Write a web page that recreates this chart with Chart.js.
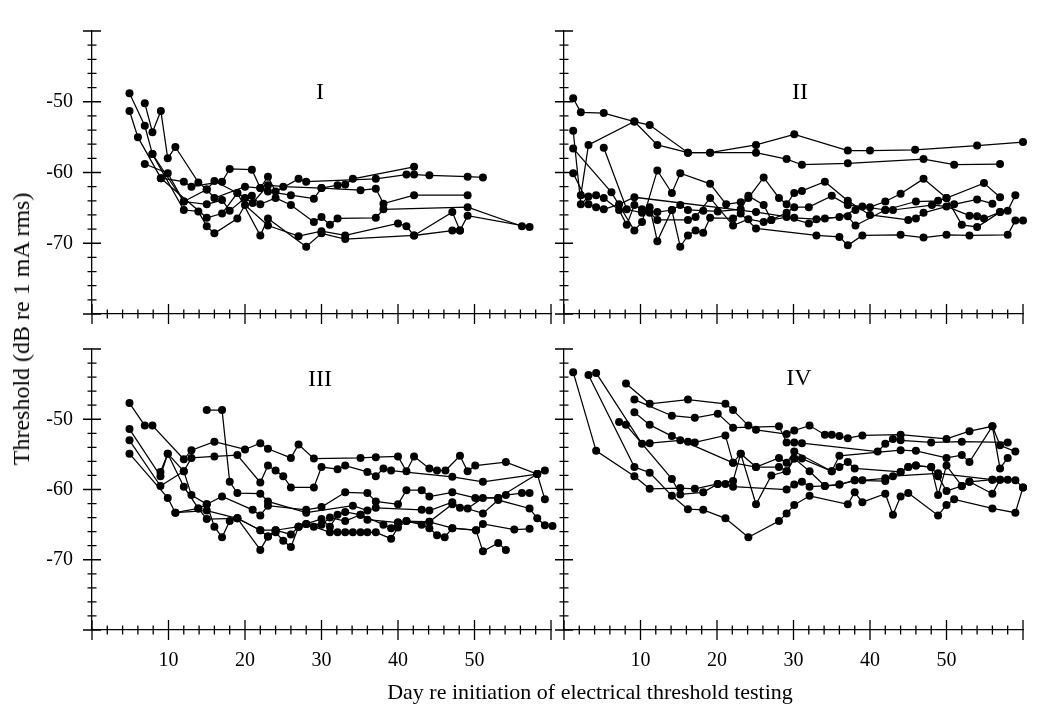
<!DOCTYPE html>
<html>
<head>
<meta charset="utf-8">
<script src="https://cdn.jsdelivr.net/npm/chart.js@4"></script>
<style>
  body { margin: 0; background: #fff; width: 1050px; height: 711px; position: relative; overflow: hidden; font-family: "Liberation Serif", "DejaVu Serif", serif; color: #000; }
  canvas { position: absolute; }
  .txt { position: absolute; white-space: nowrap; line-height: 1; transform: translate(-50%, -50%); }
</style>
</head>
<body>
<canvas id="p1" width="570" height="345" style="left:0;top:0"></canvas>
<canvas id="p2" width="505" height="345" style="left:545px;top:0"></canvas>
<canvas id="p3" width="570" height="393" style="left:0;top:318px"></canvas>
<canvas id="p4" width="505" height="393" style="left:545px;top:318px"></canvas>

<div class="txt" style="left:320px;top:91px;font-size:24px">I</div>
<div class="txt" style="left:800px;top:91px;font-size:24px">II</div>
<div class="txt" style="left:320px;top:378px;font-size:24px">III</div>
<div class="txt" style="left:799px;top:377px;font-size:24px">IV</div>
<div class="txt" style="left:590px;top:692px;font-size:22px">Day re initiation of electrical threshold testing</div>
<div class="txt" style="left:21px;top:329px;font-size:24px;transform:translate(-50%,-50%) rotate(-90deg)">Threshold (dB re 1 mA rms)</div>

<script>
// Tick positions (days and dB), one tick every 2 units
const xMin = 0, xMax = 60, xStep = 2;
const yMin = -80, yMax = -40, yStep = 2;
const xLabels = [10, 20, 30, 40, 50];
const yLabels = [-50, -60, -70];

// Panel I  [day, dB]
const panelI_a = [[4.9,-48.8],[6.9,-53.4],[7.9,-57.4],[12,-64.1],[15,-62.4],[16,-61.2],[19,-62.9],[21,-64.3],[23,-61.8],[25,-62.0],[30,-62.2],[32.1,-61.8],[33.1,-61.7],[34.1,-60.9],[42.1,-59.2]];
const panelI_b = [[4.9,-51.3],[6,-55.0],[9,-60.8],[12,-61.3],[13,-62.0],[17,-61.3],[18,-59.5],[20.9,-59.6],[22,-62.2],[23,-60.6],[24,-62.7],[27,-60.9],[28,-61.3],[37.1,-60.9],[41.1,-60.3],[42.1,-60.3],[44.1,-60.4],[49.1,-60.6],[51.1,-60.7]];
const panelI_c = [[6.9,-50.2],[7.9,-54.3],[9,-51.3],[9.9,-58.0],[10.9,-56.4],[13.9,-61.4],[15,-62.4],[16,-63.6],[20,-62.0],[22,-62.2],[23,-62.7],[26,-63.2],[29,-63.7],[30,-62.2],[35.1,-62.5],[37.1,-62.3],[38.1,-64.4],[42.1,-63.2],[49.1,-63.2]];
const panelI_d = [[6.9,-58.8],[9.9,-60.1],[12,-64.1],[15,-64.5],[17,-63.9],[18,-65.4],[20,-63.6],[20.9,-63.3],[22,-64.5],[24,-63.6],[26,-64.6],[29,-67.0],[30,-66.3],[31.1,-67.4],[32.1,-66.5],[37.1,-66.4],[38.1,-65.2],[49.1,-64.9],[56.2,-67.6]];
const panelI_e = [[7.9,-57.4],[12,-65.3],[13.9,-65.5],[15,-67.6],[16,-68.6],[19,-66.5],[20,-64.6],[23,-67.5],[27,-69.0],[30,-68.3],[33.1,-68.9],[40,-67.2],[41.1,-67.6],[42.1,-68.9],[47.1,-68.2],[48.1,-68.2],[49.1,-66.1],[57.2,-67.7]];
const panelI_f = [[9,-60.8],[15,-66.4],[17,-65.8],[19,-62.9],[22,-68.9],[23,-66.5],[28,-70.5],[30,-68.6],[33.1,-69.4],[42.1,-68.9],[47.1,-65.6],[48.1,-68.2]];

// Panel II
const panelII_a = [[1.2,-49.5],[2.2,-51.5],[5.2,-51.6],[9.2,-52.8],[11.2,-53.3],[16.2,-57.2],[19.1,-57.2],[25.1,-57.2],[29.1,-58.1],[31.1,-58.9],[37.1,-58.7],[47,-58.1],[51,-58.9],[57,-58.8]];
const panelII_b = [[2.2,-63.2],[3.2,-56.1],[9.2,-52.8],[12.2,-56.1],[16.2,-57.2],[19.1,-57.2],[25.1,-56.1],[30.1,-54.6],[37.1,-56.9],[40,-56.9],[45.9,-56.8],[54,-56.2],[60,-55.7]];
const panelII_c = [[1.2,-54.1],[2.2,-64.5],[3.2,-63.4],[4.2,-63.2],[5.2,-63.6],[7.2,-65.3],[8.2,-67.4],[9.2,-64.6],[10.2,-65.2],[12.2,-65.6],[14.1,-65.3],[15.2,-64.6],[16.2,-65.3],[18.2,-65.4],[20.1,-65.5],[23.1,-65.2],[24.1,-63.3],[26.1,-64.6],[27.1,-66.7],[29.1,-65.7],[30.1,-64.9],[32,-64.9],[35,-63.3],[37.1,-64.6],[40,-64.9],[42,-64.1],[44,-63.0],[47,-60.9],[50,-63.6],[54.9,-61.5],[57,-63.5]];
const panelII_d = [[1.2,-56.6],[6.2,-62.8],[9.2,-68.2],[10.2,-67.0],[12.2,-59.7],[14.1,-62.9],[15.2,-60.1],[19.1,-61.6],[21.2,-64.5],[23.1,-64.2],[24.1,-63.6],[26.1,-60.7],[28.1,-63.6],[29.1,-64.5],[30.1,-62.9],[31.1,-62.6],[34.1,-61.3],[37.1,-64.0],[40,-66.0],[45,-66.7],[46,-66.5],[47,-65.7],[51,-64.5],[54,-63.8],[56,-64.4]];
const panelII_e = [[1.2,-60.1],[3.2,-64.5],[4.2,-64.9],[5.2,-65.2],[7.2,-64.5],[9.2,-63.5],[25.1,-65.6],[30.1,-66.4],[33,-66.6],[36,-66.3],[38.1,-65.3],[39,-64.8],[42,-65.3],[43,-65.3],[48.1,-64.6],[50,-64.8],[53,-66.1],[54,-66.2],[54.9,-66.5],[57,-65.6],[58,-65.4],[59,-63.2]];
const panelII_f = [[5.2,-56.5],[8.2,-65.2],[10.2,-65.7],[11.2,-64.9],[12.2,-69.7],[14.1,-65.3],[15.2,-70.5],[16.2,-68.9],[17.2,-68.2],[18.2,-68.5],[19.1,-66.4],[22.1,-66.5],[23.1,-65.8],[25.1,-67.9],[33,-68.9],[36,-69.1],[37.1,-70.3],[39,-68.9],[44,-68.8],[47,-69.2],[50,-68.8],[53,-68.9],[58,-68.8],[59,-66.8],[60,-66.8]];
const panelII_g = [[11.2,-65.7],[12.2,-66.7],[16.2,-66.7],[17.2,-66.3],[19.1,-63.6],[22.1,-67.5],[24.1,-66.6],[26.1,-67.0],[27.1,-66.7],[29.1,-66.3],[32,-67.2],[34.1,-66.5],[37.1,-66.2],[38.1,-67.5],[42,-65.3],[46,-64.1],[48.9,-64.0],[50,-63.6],[52,-67.4],[54,-67.7],[57,-65.6]];

// Panel III
const panelIII_a = [[4.9,-47.7],[6.9,-50.9],[7.9,-50.9],[12,-55.7],[13,-54.4],[16,-53.2],[20,-54.3],[22,-53.4],[23,-54.2],[26,-55.5],[27,-53.6],[29,-55.6],[35.1,-55.5],[37.1,-55.4],[40,-55.3],[41.1,-57.4],[42.1,-55.3],[44.1,-57.0],[45.1,-57.3],[46.2,-57.3],[48.1,-55.2],[49.1,-57.4],[50.1,-56.6],[54.1,-56.1],[58.2,-57.8],[59.2,-57.3]];
const panelIII_b = [[4.9,-51.4],[8.95,-58.1],[9.9,-54.9],[12,-59.6],[13.9,-62.7],[15,-62.1],[17,-61.0],[21,-62.9],[22,-63.7],[23,-62.3],[28,-62.9],[30,-62.5],[33.1,-60.4],[36,-60.5],[37.1,-61.7],[40,-62.1],[41.1,-60.1],[43.1,-60.1],[44.1,-61.0],[47.1,-60.4],[50.1,-61.2],[53.1,-61.2],[54.1,-60.8],[56.2,-60.5],[57.2,-60.5]];
const panelIII_c = [[4.9,-53.0],[8.95,-59.5],[12,-57.4],[13,-55.5],[16,-55.3],[19,-55.1],[22,-59.0],[23,-56.6],[24,-57.3],[25,-58.1],[26,-59.7],[29,-59.7],[30,-56.8],[32.1,-57.1],[33.1,-56.6],[36,-57.5],[37.1,-58.1],[38.1,-57.0],[39.1,-57.3],[47.1,-58.2],[51.1,-58.9],[58.2,-57.8]];
const panelIII_d = [[4.9,-54.9],[9.9,-61.2],[10.9,-63.3],[15,-63.0],[19,-64.1],[22,-65.8],[24,-65.8],[27,-65.3],[28,-64.9],[30,-65.0],[31.1,-64.0],[33.1,-64.5],[35.1,-63.6],[36,-64.3],[40,-64.7],[41.1,-64.5],[44.1,-64.6],[47.1,-62.1],[51.1,-63.4],[53.1,-61.5],[57.2,-62.7],[58.2,-64.1],[59.2,-65.1],[60.2,-65.2]];
const panelIII_e = [[15,-48.7],[17,-48.7],[18,-58.9],[19,-60.5],[22,-60.6],[23,-61.7],[28,-63.3],[34.1,-62.3],[36,-63.0],[37.1,-62.6],[43.1,-62.9],[44.1,-63.0],[47.1,-61.8],[48.1,-62.6],[49.1,-62.7],[51.1,-61.2],[53.1,-61.2],[58.2,-57.8],[59.2,-61.4]];
const panelIII_f = [[8.95,-57.5],[9.9,-54.9],[12,-57.4],[13,-60.8],[15,-62.1],[16,-65.3],[17,-66.8],[18,-64.5],[19,-64.1],[22,-65.8],[23,-66.7],[24,-65.8],[26,-66.4],[27,-65.3],[29,-65.3],[31.1,-66.1],[32.1,-66.1],[33.1,-66.1],[34.1,-66.1],[35.1,-66.1],[36,-66.1],[37.1,-66.1],[39.1,-67.0],[40,-65.4],[41.1,-64.5],[43.1,-65.0],[44.1,-65.5],[45.1,-66.5],[46.1,-66.8],[47.1,-65.5],[50.2,-65.8],[51.1,-64.9],[55.2,-65.7],[57.2,-65.6]];
const panelIII_g = [[10.9,-63.3],[13.9,-62.7],[15,-64.2],[19,-64.1],[22,-68.6],[23,-66.7],[24,-66.1],[25,-67.3],[26,-68.2],[27,-65.3],[28,-64.9],[30,-64.2],[31.1,-65.3],[32.1,-63.6],[33.1,-63.2],[35.1,-63.6],[38.1,-65.0],[39.1,-65.5],[40,-64.7],[44.1,-64.6],[47.1,-65.5],[50.2,-65.8],[51.1,-68.8],[53.1,-67.6],[54.1,-68.6]];

// Panel IV
const panelIV_a = [[1.2,-43.3],[4.2,-54.5],[9.2,-58.1],[11.2,-59.9],[15.2,-59.8],[17.1,-59.9],[20.1,-59.2],[21.1,-59.2],[22.1,-59.6],[29.1,-60.0],[30.1,-59.3],[31.1,-58.9],[32.1,-59.6],[34.1,-59.5],[36,-59.3],[38,-58.7],[39,-58.7],[42,-58.4],[43,-58.1],[48.9,-57.7],[56,-58.6],[57,-58.6],[58,-58.6],[59,-58.7],[60,-59.7]];
const panelIV_b = [[3.2,-43.7],[9.2,-56.8],[11.2,-57.6],[14.1,-60.9],[16.2,-62.8],[18.2,-62.9],[21.1,-64.1],[24.1,-66.8],[28.1,-64.5],[29.1,-63.4],[30.1,-62.2],[32.1,-60.9],[37.1,-62.1],[38,-60.4],[39,-61.8],[42,-60.6],[43,-63.6],[44,-61.0],[45,-60.5],[48.9,-63.7],[50,-62.2],[51,-61.4],[56,-62.7],[59,-63.3],[60,-59.7]];
const panelIV_c = [[4.2,-43.4],[10.2,-53.5],[11.2,-53.4],[15.2,-53.0],[16.2,-53.2],[17.1,-53.3],[21.1,-52.3],[22.1,-56.2],[23.1,-54.9],[25.1,-56.8],[28.1,-56.8],[29.1,-57.4],[30.1,-55.6],[31.1,-55.6],[35,-57.4],[36,-56.8],[37.1,-56.1],[38,-57.0],[44,-57.5],[45,-56.8],[46,-56.6],[48,-56.8],[48.9,-58.1],[50,-60.2],[52,-59.5],[53,-58.9],[56,-58.6]];
const panelIV_d = [[8.1,-44.9],[11.2,-47.8],[16.2,-47.2],[21.1,-47.8],[22.1,-48.7],[24.1,-50.9],[25.1,-51.5],[29.1,-52.1],[30.1,-51.6],[32.1,-50.9],[34.1,-52.2],[35,-52.2],[36,-52.4],[37.1,-52.7],[39,-52.3],[44,-52.2],[50,-52.8],[53,-51.7],[56,-51.0],[57,-53.7],[59,-54.6]];
const panelIV_e = [[9.2,-47.2],[14.1,-49.5],[17.1,-49.8],[20.1,-49.2],[22.1,-51.2],[28.1,-51.0],[29.1,-53.3],[30.1,-53.3],[31.1,-53.4],[41,-54.6],[42,-53.5],[43,-52.8],[44,-53.0],[48,-53.3],[52,-53.2],[58,-53.3]];
const panelIV_f = [[9.2,-49.0],[11.2,-50.8],[14.1,-52.4],[22.1,-56.2],[25.1,-56.8],[28.1,-55.5],[29.1,-56.2],[30.1,-54.6],[35,-57.4],[36,-55.2],[44,-54.4],[46,-54.5],[50,-55.5],[52,-55.1],[53,-56.1],[56,-51.0],[57,-57.0],[58,-55.5]];
const panelIV_g = [[7.2,-50.4],[8.1,-50.8],[14.1,-58.5],[15.2,-60.7],[18.2,-60.4],[20.1,-59.2],[22.1,-58.8],[23.1,-54.9],[25.1,-62.1],[27.1,-58.0],[29.1,-57.4],[30.1,-55.6],[32.1,-57.4],[34.1,-59.5],[36,-59.3],[38,-58.7],[42,-58.8],[44,-57.5],[45,-56.8],[46,-56.6],[48,-56.8],[48.9,-60.8],[50,-56.6],[52,-59.5],[53,-58.9],[56,-60.6],[57,-58.6]];

// Ticks that cross the axis lines (long every 10, short every 2)
const crossTicks = {
    id: 'crossTicks',
    afterDraw(chart) {
        const ctx = chart.ctx;
        const area = chart.chartArea;
        const xs = chart.scales.x;
        const ys = chart.scales.y;
        ctx.save();
        ctx.strokeStyle = '#000';
        ctx.lineWidth = 1.3;
        ctx.beginPath();
        xs.ticks.forEach(t => {
            const px = xs.getPixelForValue(t.value);
            const len = t.value % 10 === 0 ? 10 : 4.5;
            ctx.moveTo(px, area.bottom - len);
            ctx.lineTo(px, area.bottom + len);
        });
        ys.ticks.forEach(t => {
            const py = ys.getPixelForValue(t.value);
            const len = t.value % 10 === 0 ? 9 : 4.5;
            ctx.moveTo(area.left - len, py);
            ctx.lineTo(area.left + len, py);
        });
        ctx.stroke();
        ctx.restore();
    }
};

const tickFont = { family: '"Liberation Serif", serif', size: 20 };

function makePanel(id, seriesList, cfg) {
    const datasets = seriesList.map(s => ({
        data: s.map(p => ({ x: p[0], y: p[1] })),
        showLine: true,
        borderColor: '#000',
        borderWidth: 1.25,
        backgroundColor: '#000',
        pointRadius: 4,
        pointBorderWidth: 0,
        pointBackgroundColor: '#000',
        clip: false
    }));
    return new Chart(document.getElementById(id), {
        type: 'scatter',
        data: { datasets },
        options: {
            responsive: false,
            animation: false,
            layout: { padding: cfg.padding },
            plugins: { legend: { display: false }, tooltip: { enabled: false } },
            scales: {
                x: {
                    type: 'linear', min: xMin, max: xMax,
                    grid: { display: false, drawTicks: false },
                    border: { display: true, color: '#000', width: 1.3 },
                    ticks: {
                        stepSize: xStep, autoSkip: false, maxRotation: 0, padding: 19,
                        color: '#000', font: tickFont,
                        callback: v => (cfg.xText && xLabels.includes(v)) ? String(v) : ''
                    },
                    afterFit: s => { s.height = cfg.xHeight; }
                },
                y: {
                    type: 'linear', min: yMin, max: yMax,
                    grid: { display: false, drawTicks: false },
                    border: { display: true, color: '#000', width: 1.3 },
                    ticks: {
                        stepSize: yStep, autoSkip: false, padding: 19,
                        color: '#000', font: tickFont,
                        callback: v => (cfg.yText && yLabels.includes(v)) ? String(v) : ''
                    },
                    afterFit: s => { s.width = cfg.yWidth; }
                }
            }
        },
        plugins: [crossTicks]
    });
}

makePanel('p1', [panelI_a, panelI_b, panelI_c, panelI_d, panelI_e, panelI_f],
    { padding: { top: 28, right: 15, left: 0, bottom: 0 }, xHeight: 17, yWidth: 92, xText: false, yText: true });
makePanel('p2', [panelII_a, panelII_b, panelII_c, panelII_d, panelII_e, panelII_f, panelII_g],
    { padding: { top: 28, right: 27, left: 0, bottom: 0 }, xHeight: 17, yWidth: 10, xText: false, yText: false });
makePanel('p3', [panelIII_a, panelIII_b, panelIII_c, panelIII_d, panelIII_e, panelIII_f, panelIII_g],
    { padding: { top: 10, right: 15, left: 0, bottom: 0 }, xHeight: 81, yWidth: 92, xText: true, yText: true });
makePanel('p4', [panelIV_a, panelIV_b, panelIV_c, panelIV_d, panelIV_e, panelIV_f, panelIV_g],
    { padding: { top: 10, right: 27, left: 0, bottom: 0 }, xHeight: 81, yWidth: 10, xText: true, yText: false });
</script>
</body>
</html>
